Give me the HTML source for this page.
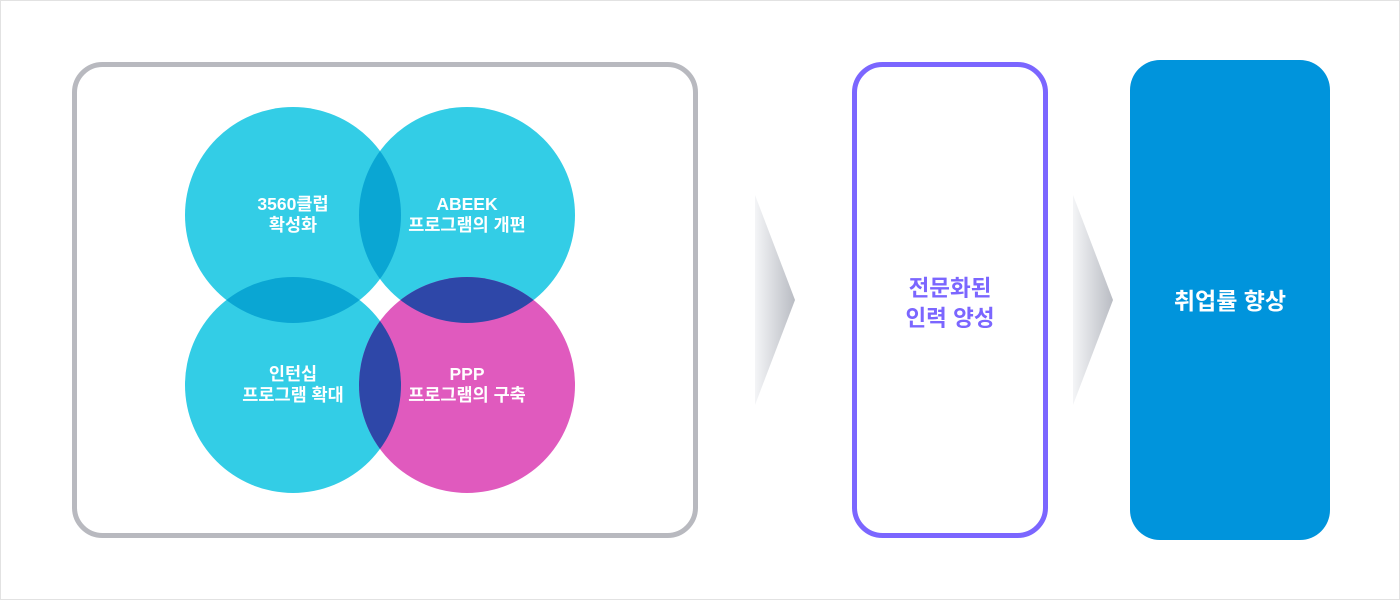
<!DOCTYPE html>
<html><head><meta charset="utf-8"><style>
html,body{margin:0;padding:0;background:#fff}
body{width:1400px;height:600px;overflow:hidden}
text{font-family:"Liberation Sans","Noto Sans CJK KR",sans-serif;font-weight:bold}
</style></head><body>
<svg width="1400" height="600" viewBox="0 0 1400 600" xmlns="http://www.w3.org/2000/svg">
<defs>
<linearGradient id="ag" x1="0" x2="1" y1="0" y2="0"><stop offset="0" stop-color="#f4f5f7"/><stop offset="1" stop-color="#b9bcc3"/></linearGradient>
<clipPath id="cTL"><circle cx="293" cy="215" r="108"/></clipPath>
<clipPath id="cTR"><circle cx="467" cy="215" r="108"/></clipPath>
<clipPath id="cBR"><circle cx="467" cy="385" r="108"/></clipPath>
</defs>
<rect x="0.5" y="0.5" width="1399" height="599" fill="#fff" stroke="#e2e2e2"/>
<rect x="74.5" y="64.5" width="621" height="471" rx="28" fill="#fff" stroke="#b8b9bf" stroke-width="5"/>
<circle cx="293" cy="215" r="108" fill="#33cde6"/>
<circle cx="467" cy="215" r="108" fill="#33cde6"/>
<circle cx="293" cy="385" r="108" fill="#33cde6"/>
<circle cx="467" cy="385" r="108" fill="#e05abe"/>
<circle cx="467" cy="215" r="108" fill="#0aa6d3" clip-path="url(#cTL)"/>
<circle cx="293" cy="385" r="108" fill="#0aa6d3" clip-path="url(#cTL)"/>
<circle cx="467" cy="385" r="108" fill="#2e47a8" clip-path="url(#cTR)"/>
<circle cx="293" cy="385" r="108" fill="#2e47a8" clip-path="url(#cBR)"/>
<g fill="#fff" font-size="17.5" text-anchor="middle">
<text x="293" y="210">3560클럽</text><text x="293" y="231">확성화</text>
<text x="467" y="210">ABEEK</text><text x="467" y="231">프로그램의 개편</text>
<text x="293" y="380">인턴십</text><text x="293" y="401">프로그램 확대</text>
<text x="467" y="380">PPP</text><text x="467" y="401">프로그램의 구축</text>
</g>
<polygon points="755,195 795,300 755,405" fill="url(#ag)"/>
<polygon points="1073,195 1113,300 1073,405" fill="url(#ag)"/>
<rect x="854.5" y="64.5" width="191" height="471" rx="28" fill="#fff" stroke="#7b66ff" stroke-width="5"/>
<g fill="#7b66ff" font-size="22.5" text-anchor="middle">
<text x="950" y="296">전문화된</text><text x="950" y="326">인력 양성</text>
</g>
<rect x="1130" y="60" width="200" height="480" rx="30" fill="#0094dc"/>
<text x="1230" y="309" fill="#fff" font-size="23" text-anchor="middle">취업률 향상</text>
</svg>
</body></html>
